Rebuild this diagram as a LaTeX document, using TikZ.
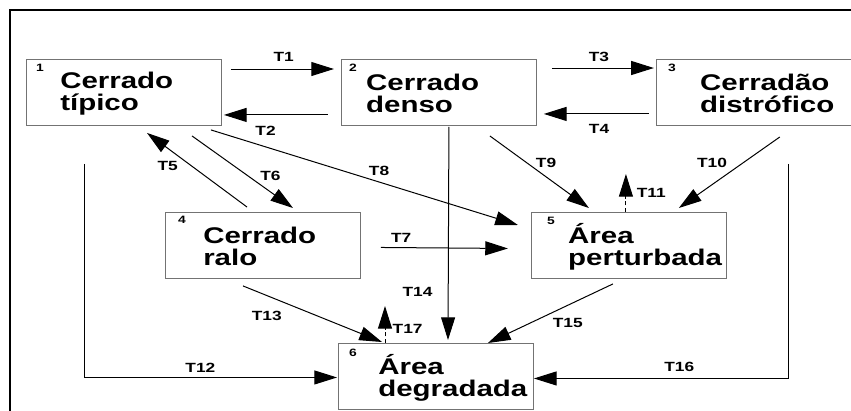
\documentclass[tikz,border=0pt]{standalone}
\usepackage{fontspec}
\setmainfont{Liberation Sans}[FakeStretch=1.3]
\usetikzlibrary{arrows.meta, positioning, calc}

\tikzstyle{box} = [rectangle, draw=black!55, line width=0.7pt, minimum width=146.25pt, minimum height=49.5pt, anchor=north west, inner sep=0pt]
\tikzstyle{boxtext} = [font=\bfseries\fontsize{17}{16.5}\selectfont, align=left, anchor=west, inner sep=0pt]
\tikzstyle{num} = [font=\bfseries\fontsize{8}{9}\selectfont, inner sep=0pt]
\tikzstyle{lbl} = [font=\bfseries\fontsize{10}{11}\selectfont, inner sep=0pt]
\tikzstyle{arrow} = [line width=0.75pt, -{Triangle[length=17pt, width=10.5pt]}]
\tikzstyle{backarrow} = [arrow, densely dashed]

\begin{document}
\begin{tikzpicture}[x=0.75pt, y=-0.75pt]
	\useasboundingbox (0,0) rectangle (851,411);
	\draw [line width=1.5pt] (10,411) -- (10,10) -- (851,10);

	% estados
	\node (c1) [box] at (26,59) {};
	\node (c2) [box, right=89.25pt of c1] {};
	\node (c3) [box, right=89.25pt of c2] {};
	\node (c4) [box] at (165,212) {};
	\node (c5) [box, right=127.5pt of c4] {};
	\node (c6) [box] at (338,343) {};

	\node (t1) [boxtext] at ($(c1.west)+(34,1)$) {Cerrado\\típico};
	\node (t2) [boxtext] at ($(c2.west)+(25,1)$) {Cerrado\\denso};
	\node (t3) [boxtext] at ($(c3.west)+(44,1)$) {Cerradão\\distrófico};
	\node (t4) [boxtext] at ($(c4.west)+(38,1)$) {Cerrado\\ralo};
	\node (t5) [boxtext] at ($(c5.west)+(37,1)$) {Área\\perturbada};
	\node (t6) [boxtext] at ($(c6.west)+(40,1)$) {Área\\degradada};

	\node (n1) [num] at ($(c1.north west)+(14,9)$) {1};
	\node (n2) [num] at ($(c2.north west)+(12,9)$) {2};
	\node (n3) [num] at ($(c3.north west)+(16,9)$) {3};
	\node (n4) [num] at ($(c4.north west)+(17,8)$) {4};
	\node (n5) [num] at ($(c5.north west)+(20,9)$) {5};
	\node (n6) [num] at ($(c6.north west)+(15,10)$) {6};

	\coordinate (p12) at ($(c1.south west)+(58,38)$);
	\coordinate (p16) at ($(c3.south west)+(133,38)$);

	% transicoes
	\draw [arrow] ($(c1.north east)+(9,10)$) -- node[lbl, pos=.5, xshift=1pt, yshift=9pt] {T1} ($(c2.north west)+(-7,10)$);
	\draw [arrow] ($(c2.south west)+(-13,-11)$) -- node[lbl, pos=.6, yshift=-12pt] {T2} ($(c1.south east)+(2,-11)$);
	\draw [arrow] ($(c2.north east)+(15,9)$) -- node[lbl, pos=.5, xshift=-3pt, yshift=8pt] {T3} ($(c3.north west)+(-2,9)$);
	\draw [arrow] ($(c3.south west)+(-7,-12)$) -- node[lbl, pos=.5, xshift=2pt, yshift=-11pt] {T4} ($(c2.south east)+(7,-12)$);
	\draw [arrow] ($(c4.north west)+(82,-5)$) -- node[lbl, pos=.5, xshift=-22pt, yshift=3pt] {T5} ($(c1.south west)+(121,7)$);
	\draw [arrow] ($(c1.south west)+(166,10)$) -- node[lbl, pos=.5, xshift=21pt, yshift=-3pt] {T6} ($(c4.north west)+(128,-4)$);
	\draw [arrow] ($(c4.east)+(20,2)$) -- node[lbl, pos=.16, yshift=7.5pt] {T7} ($(c5.west)+(-23,3)$);
	\draw [arrow] ($(c1.south east)+(-11,4)$) -- node[lbl, pos=.5, xshift=11pt, yshift=5pt] {T8} ($(c5.north west)+(-13,13)$);
	\draw [arrow] ($(c2.south east)+(-47,10)$) -- node[lbl, pos=.5, xshift=5pt, yshift=7pt] {T9} ($(c5.north west)+(58,-4)$);
	\draw [arrow] ($(c3.south west)+(124,11)$) -- node[lbl, pos=.5, xshift=-13pt, yshift=7.5pt] {T10} ($(c5.north east)+(-48,-4)$);
	\draw [backarrow] ($(c5.north west)+(95,0)$) -- node[lbl, pos=.5, xshift=19pt] {T11} ($(c5.north west)+(95,-38)$);
	\draw [arrow] (p12) |- node[lbl, pos=.73, yshift=7.5pt] {T12} ($(c6.west)+(-1,1)$);
	\draw [arrow] ($(c4.south west)+(78,7)$) -- node[lbl, pos=.2, xshift=-3pt, yshift=-14pt] {T13} ($(c6.north west)+(44,-1)$);
	\draw [arrow] ($(c2.south west)+(108,1)$) -- node[lbl, pos=.776, xshift=-23pt] {T14} ($(c6.north west)+(110,-3)$);
	\draw [arrow] ($(c5.south west)+(82,5)$) -- node[lbl, pos=.5, xshift=13pt, yshift=-7pt] {T15} ($(c6.north east)+(-46,0)$);
	\draw [arrow] (p16) |- node[lbl, pos=.715, yshift=9pt] {T16} ($(c6.east)+(0,2)$);
	\draw [backarrow] ($(c6.north west)+(47,0)$) -- node[lbl, pos=.5, xshift=17pt, yshift=-3pt] {T17} ($(c6.north west)+(47,-37)$);
\end{tikzpicture}
\end{document}
